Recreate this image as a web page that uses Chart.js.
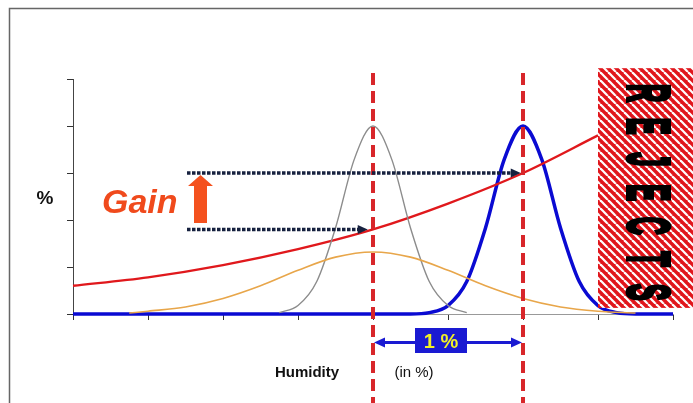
<!DOCTYPE html>
<html>
<head>
<meta charset="utf-8">
<style>
   html, body { margin: 0; padding: 0; background: #fff; }
   canvas { display: block; }
</style>
</head>
<body>
<canvas id="chart" width="693" height="403"></canvas>
<script src="https://cdn.jsdelivr.net/npm/chart.js@4.4.1/dist/chart.umd.min.js"></script>
<script>
// axis ranges, in tick units (labels are not shown in the original)
const xRange = [0, 8];
const yRange = [0, 5];

// red gain curve
const gainX = [0, 1, 2, 3, 4, 5, 6, 7];
const gainY = [0.6, 0.78, 1.04, 1.38, 1.8, 2.35, 3.0, 3.8];

// wide orange distribution
const wideX = [0.75, 1, 1.5, 2, 2.5, 3, 3.5, 4, 4.5, 5, 5.5, 6, 6.5, 7, 7.5];
const wideY = [0.02, 0.06, 0.15, 0.33, 0.6, 0.93, 1.21, 1.32, 1.21, 0.93, 0.6, 0.33, 0.15, 0.06, 0.02];

// grey distribution around the old set point
const oldX = [2.75, 3, 3.25, 3.5, 3.75, 4, 4.25, 4.5, 4.75, 5, 5.25];
const oldY = [0.03, 0.18, 0.69, 1.83, 3.29, 4.0, 3.29, 1.83, 0.69, 0.18, 0.03];

// blue distribution around the new set point, with its base line
const newX = [0, 4.5, 4.75, 5, 5.25, 5.5, 5.75, 6, 6.25, 6.5, 6.75, 7, 7.25, 7.5, 8];
const newY = [0, 0, 0.03, 0.18, 0.69, 1.83, 3.29, 4.0, 3.29, 1.83, 0.69, 0.18, 0.03, 0, 0];

// set points and gain arrows
const setPoints = [4, 6];
const arrowStart = [1.52, 1.52];
const arrowEnd = [3.93, 5.97];
const arrowLevel = [1.8, 3.0];

// rejects zone starts here
const rejectFrom = 7;

const FONT = '"Liberation Sans", Arial, sans-serif';

const toPoints = (xs, ys) => xs.map((x, i) => ({ x: x, y: ys[i] }));

const line = (data, color, width) => ({
   data: data,
   borderColor: color,
   borderWidth: width,
   pointRadius: 0,
   fill: false,
   cubicInterpolationMode: "monotone",
   clip: false,
});

// striped fill for the rejects box
const makeStripes = () => {
   const tile = document.createElement("canvas");
   tile.width = 8;
   tile.height = 8;
   const c = tile.getContext("2d");
   c.fillStyle = "#e0161c";
   c.fillRect(0, 0, 8, 8);
   c.strokeStyle = "#fff";
   c.lineWidth = 2.2;
   [-8, 0, 8].forEach((dx) => {
      c.beginPath();
      c.moveTo(dx, 0);
      c.lineTo(dx + 8, 8);
      c.stroke();
   });
   return c.createPattern(tile, "repeat");
};

const arrowHead = (ctx, x, y, dir, len, half, color) => {
   ctx.fillStyle = color;
   ctx.beginPath();
   ctx.moveTo(x, y);
   ctx.lineTo(x - dir * len, y - half);
   ctx.lineTo(x - dir * len, y + half);
   ctx.closePath();
   ctx.fill();
};

const overlay = {
   id: "overlay",
   afterDatasetsDraw(chart) {
      const ctx = chart.ctx;
      const xs = chart.scales.x;
      const ys = chart.scales.y;
      ctx.save();

      // outer frame
      ctx.strokeStyle = "#666";
      ctx.lineWidth = 1.5;
      ctx.beginPath();
      ctx.moveTo(9.5, chart.height);
      ctx.lineTo(9.5, 8.5);
      ctx.lineTo(chart.width, 8.5);
      ctx.stroke();

      // rejects box
      const bx = xs.getPixelForValue(rejectFrom);
      const bTop = ys.getPixelForValue(5.23);
      const bBot = ys.getPixelForValue(0.13);
      ctx.fillStyle = makeStripes();
      ctx.fillRect(bx, bTop, chart.width - bx, bBot - bTop);

      // vertical REJECTS text
      const letters = "REJECTS".split("");
      ctx.fillStyle = "#000";
      ctx.strokeStyle = "#000";
      ctx.lineWidth = 4;
      ctx.font = "bold 60px " + FONT;
      ctx.textAlign = "center";
      ctx.textBaseline = "alphabetic";
      letters.forEach((ch, i) => {
         ctx.save();
         ctx.translate(649, 93 + i * 33.2);
         ctx.rotate(Math.PI / 2);
         ctx.scale(0.42, 1);
         ctx.fillText(ch, 0, 21);
         ctx.strokeText(ch, 0, 21);
         ctx.restore();
      });

      // red dashed set point lines
      ctx.strokeStyle = "#d8262a";
      ctx.lineWidth = 4;
      ctx.setLineDash([12, 6]);
      setPoints.forEach((v) => {
         const px = xs.getPixelForValue(v);
         ctx.beginPath();
         ctx.moveTo(px, ys.getPixelForValue(5.13));
         ctx.lineTo(px, chart.height);
         ctx.stroke();
      });

      // dotted gain arrows
      ctx.strokeStyle = "#16213f";
      ctx.lineWidth = 3.5;
      ctx.setLineDash([3.5, 1.5]);
      arrowStart.forEach((s, i) => {
         const y = ys.getPixelForValue(arrowLevel[i]);
         const x0 = xs.getPixelForValue(s);
         const x1 = xs.getPixelForValue(arrowEnd[i]);
         ctx.beginPath();
         ctx.moveTo(x0, y);
         ctx.lineTo(x1 - 8, y);
         ctx.stroke();
         arrowHead(ctx, x1, y, 1, 10, 4.5, "#16213f");
      });
      ctx.setLineDash([]);

      // Gain label and arrow
      ctx.fillStyle = "#f04a1c";
      ctx.font = "italic bold 34px " + FONT;
      ctx.textAlign = "left";
      ctx.fillText("Gain", 102, 213);
      ctx.fillStyle = "#f4511e";
      ctx.beginPath();
      ctx.moveTo(194, 223);
      ctx.lineTo(194, 186);
      ctx.lineTo(188, 186);
      ctx.lineTo(200.5, 175);
      ctx.lineTo(213, 186);
      ctx.lineTo(207, 186);
      ctx.lineTo(207, 223);
      ctx.closePath();
      ctx.fill();

      // y axis label
      ctx.fillStyle = "#111";
      ctx.font = "bold 19px " + FONT;
      ctx.textAlign = "center";
      ctx.fillText("%", 45, 204);

      // 1 % spread arrow
      const ax0 = xs.getPixelForValue(setPoints[0]);
      const ax1 = xs.getPixelForValue(setPoints[1]);
      const ay = 342.5;
      ctx.strokeStyle = "#1a1ad2";
      ctx.lineWidth = 3;
      ctx.beginPath();
      ctx.moveTo(ax0 + 8, ay);
      ctx.lineTo(ax1 - 8, ay);
      ctx.stroke();
      arrowHead(ctx, ax0 + 1, ay, -1, 11, 5, "#1a1ad2");
      arrowHead(ctx, ax1 - 1, ay, 1, 11, 5, "#1a1ad2");
      ctx.fillStyle = "#1a1ad2";
      ctx.fillRect(415, 328, 52, 25);
      ctx.fillStyle = "#f2f226";
      ctx.font = "bold 20px " + FONT;
      ctx.fillText("1 %", 441, 348);

      // axis caption
      ctx.fillStyle = "#111";
      ctx.font = "bold 15px " + FONT;
      ctx.fillText("Humidity", 307, 377);
      ctx.font = "15px " + FONT;
      ctx.fillText("(in %)", 414, 377);

      ctx.restore();
   },
};

const config = {
   type: "scatter",
   data: {
      datasets: [
         line(toPoints(wideX, wideY), "#e8a64a", 1.6),
         line(toPoints(oldX, oldY), "#8c8c8c", 1.4),
         line(toPoints(gainX, gainY), "#e0181c", 2.4),
         line(toPoints(newX, newY), "#0a0ad2", 3.5),
      ],
   },
   options: {
      responsive: false,
      animation: false,
      showLine: true,
      layout: { padding: { left: 73, right: 20, top: 79, bottom: 89 } },
      plugins: { legend: { display: false }, tooltip: { enabled: false } },
      scales: {
         x: {
            type: "linear",
            min: xRange[0],
            max: xRange[1],
            ticks: { display: false, stepSize: 1 },
            grid: { drawOnChartArea: false, drawTicks: true, tickLength: 6, color: "#333" },
            border: { display: true, color: "#999", width: 1 },
            afterFit: (s) => { s.height = 0; },
         },
         y: {
            min: yRange[0],
            max: yRange[1],
            ticks: { display: false, stepSize: 1 },
            grid: { drawOnChartArea: false, drawTicks: true, tickLength: 6, color: "#333" },
            border: { display: true, color: "#444", width: 1 },
            afterFit: (s) => { s.width = 0; },
         },
      },
   },
   plugins: [overlay],
};

const myChart = new Chart(document.getElementById("chart"), config);
</script>
</body>
</html>
